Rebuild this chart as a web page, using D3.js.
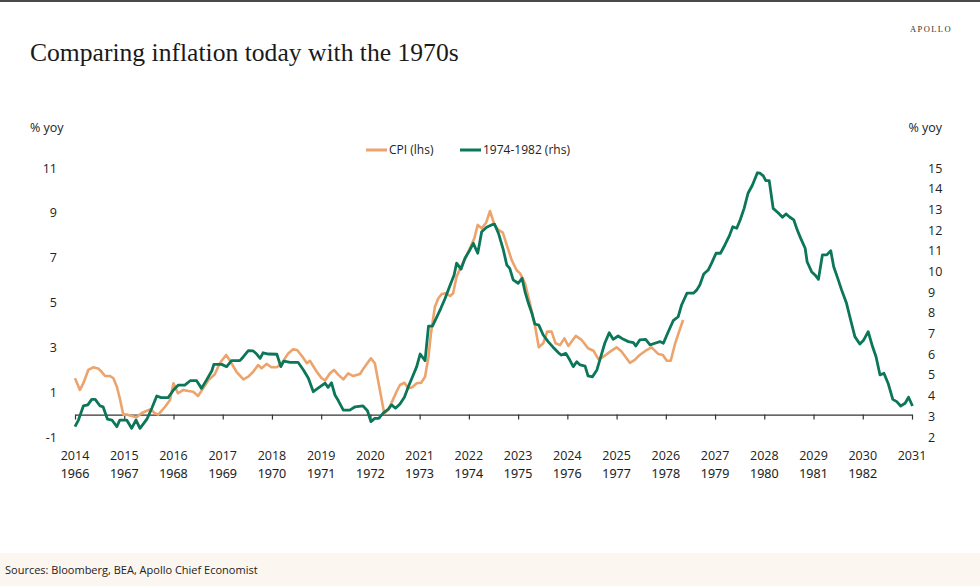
<!DOCTYPE html>
<html>
<head>
<meta charset="utf-8">
<script src="https://cdn.jsdelivr.net/npm/d3@7"></script>
<style>
  body { margin: 0; background: #fff; }
  svg { display: block; }
</style>
</head>
<body>
<svg id="chart"></svg>
<script>
// CPI yoy (lhs), [year, value]
const cpiSeries = [
  [2014.00, 1.62], [2014.10, 1.10], [2014.17, 1.40], [2014.27, 1.99], [2014.37, 2.11],
  [2014.47, 2.06], [2014.54, 1.91], [2014.61, 1.72], [2014.71, 1.72], [2014.78, 1.62],
  [2014.85, 1.24], [2014.91, 0.73], [2014.98, 0.00], [2015.05, 0.00], [2015.15, -0.06],
  [2015.25, -0.12], [2015.35, 0.06], [2015.46, 0.17], [2015.54, 0.24], [2015.62, 0.06],
  [2015.69, 0.00], [2015.83, 0.35], [2015.93, 0.65], [2016.00, 1.40], [2016.09, 0.95],
  [2016.20, 1.10], [2016.30, 1.05], [2016.40, 1.02], [2016.50, 0.83], [2016.59, 1.13],
  [2016.71, 1.54], [2016.84, 1.80], [2016.94, 2.29], [2017.07, 2.66], [2017.15, 2.40],
  [2017.28, 1.91], [2017.42, 1.57], [2017.52, 1.69], [2017.62, 1.91], [2017.72, 2.21],
  [2017.79, 2.06], [2017.89, 2.26], [2017.99, 2.11], [2018.10, 2.11], [2018.20, 2.29],
  [2018.33, 2.73], [2018.43, 2.91], [2018.51, 2.88], [2018.62, 2.58], [2018.71, 2.29],
  [2018.77, 2.40], [2018.91, 1.91], [2019.01, 1.62], [2019.08, 1.52], [2019.18, 1.84],
  [2019.26, 1.99], [2019.35, 1.77], [2019.45, 1.57], [2019.55, 1.84], [2019.65, 1.72],
  [2019.79, 1.81], [2019.86, 2.06], [2020.01, 2.51], [2020.09, 2.29], [2020.16, 1.47],
  [2020.23, 0.65], [2020.28, 0.06], [2020.36, 0.20], [2020.44, 0.58], [2020.53, 1.02],
  [2020.60, 1.32], [2020.69, 1.42], [2020.77, 1.17], [2020.85, 1.22], [2020.94, 1.40],
  [2021.03, 1.42], [2021.11, 1.69], [2021.18, 2.58], [2021.23, 3.63], [2021.31, 4.81],
  [2021.38, 5.19], [2021.45, 5.38], [2021.53, 5.41], [2021.62, 5.29], [2021.68, 5.41],
  [2021.75, 6.15], [2021.84, 6.60], [2021.93, 6.97], [2022.02, 7.42], [2022.11, 7.86],
  [2022.18, 8.46], [2022.26, 8.31], [2022.35, 8.56], [2022.43, 9.08], [2022.52, 8.46],
  [2022.60, 8.24], [2022.69, 8.12], [2022.77, 7.56], [2022.87, 6.89], [2022.97, 6.44],
  [2023.04, 6.30], [2023.14, 5.86], [2023.24, 4.96], [2023.34, 4.00], [2023.42, 3.00],
  [2023.51, 3.18], [2023.59, 3.70], [2023.68, 3.70], [2023.76, 3.18], [2023.85, 3.10],
  [2023.94, 3.40], [2024.02, 3.06], [2024.17, 3.51], [2024.29, 3.33], [2024.42, 2.96],
  [2024.53, 2.85], [2024.63, 2.47], [2024.73, 2.58], [2024.87, 2.81], [2025.00, 3.00],
  [2025.10, 2.81], [2025.27, 2.31], [2025.37, 2.44], [2025.47, 2.66], [2025.61, 2.88],
  [2025.71, 3.00], [2025.85, 2.70], [2025.94, 2.66], [2026.02, 2.40], [2026.10, 2.40],
  [2026.19, 3.18], [2026.27, 3.70], [2026.35, 4.22]
]

// 1966-1983 CPI yoy shifted onto the modern axis (rhs)
const seventiesSeries = [
  [2014.00, 2.50], [2014.07, 2.82], [2014.17, 3.50], [2014.26, 3.55], [2014.34, 3.82],
  [2014.41, 3.82], [2014.51, 3.50], [2014.57, 3.46], [2014.66, 2.86], [2014.75, 2.82],
  [2014.85, 2.50], [2014.91, 2.82], [2015.05, 2.82], [2015.15, 2.42], [2015.24, 2.82],
  [2015.32, 2.42], [2015.46, 2.86], [2015.56, 3.39], [2015.66, 3.98], [2015.75, 3.90],
  [2015.89, 3.90], [2016.00, 4.27], [2016.10, 4.51], [2016.23, 4.51], [2016.34, 4.72],
  [2016.47, 4.72], [2016.57, 4.35], [2016.67, 4.75], [2016.78, 5.20], [2016.82, 5.51],
  [2016.98, 5.51], [2017.08, 5.40], [2017.18, 5.69], [2017.35, 5.69], [2017.42, 5.88],
  [2017.52, 6.17], [2017.62, 6.16], [2017.69, 6.01], [2017.76, 5.80], [2017.82, 6.07],
  [2017.93, 6.01], [2018.10, 6.00], [2018.18, 5.40], [2018.24, 5.67], [2018.37, 5.61],
  [2018.53, 5.61], [2018.64, 5.24], [2018.74, 4.84], [2018.84, 4.19], [2018.98, 4.43],
  [2019.08, 4.60], [2019.14, 4.40], [2019.21, 4.62], [2019.28, 4.03], [2019.35, 3.75],
  [2019.45, 3.30], [2019.58, 3.30], [2019.69, 3.46], [2019.85, 3.50], [2019.94, 3.27],
  [2020.01, 2.74], [2020.09, 2.90], [2020.17, 2.90], [2020.26, 3.15], [2020.36, 3.34],
  [2020.43, 3.55], [2020.51, 3.39], [2020.60, 3.59], [2020.69, 3.92], [2020.77, 4.43],
  [2020.87, 5.00], [2020.94, 5.40], [2021.01, 6.01], [2021.11, 5.69], [2021.18, 7.36],
  [2021.26, 7.36], [2021.35, 7.81], [2021.43, 8.22], [2021.51, 8.66], [2021.62, 9.35],
  [2021.70, 9.83], [2021.75, 10.40], [2021.84, 10.11], [2021.92, 10.64], [2022.02, 11.04],
  [2022.09, 11.36], [2022.18, 10.88], [2022.26, 11.92], [2022.36, 12.14], [2022.46, 12.25],
  [2022.52, 12.29], [2022.60, 11.85], [2022.70, 11.04], [2022.77, 10.31], [2022.83, 10.15],
  [2022.90, 9.59], [2023.00, 9.43], [2023.08, 9.67], [2023.14, 9.02], [2023.21, 8.46],
  [2023.28, 7.98], [2023.34, 7.46], [2023.42, 7.41], [2023.51, 6.93], [2023.61, 6.61],
  [2023.71, 6.34], [2023.82, 6.07], [2023.88, 5.96], [2023.97, 6.04], [2024.05, 5.72],
  [2024.12, 5.40], [2024.19, 5.64], [2024.26, 5.48], [2024.36, 5.43], [2024.42, 4.95],
  [2024.51, 4.91], [2024.60, 5.24], [2024.68, 5.88], [2024.76, 6.53], [2024.85, 7.04],
  [2024.93, 6.72], [2025.03, 6.88], [2025.14, 6.72], [2025.24, 6.61], [2025.34, 6.56],
  [2025.39, 6.40], [2025.47, 6.69], [2025.59, 6.72], [2025.68, 6.45], [2025.78, 6.53],
  [2025.88, 6.61], [2025.95, 6.53], [2026.05, 7.09], [2026.15, 7.62], [2026.25, 7.81],
  [2026.32, 8.38], [2026.43, 8.95], [2026.56, 8.95], [2026.63, 9.11], [2026.69, 9.35],
  [2026.77, 9.88], [2026.86, 10.07], [2026.93, 10.40], [2027.02, 10.88], [2027.11, 10.88],
  [2027.20, 11.28], [2027.29, 11.72], [2027.36, 12.16], [2027.44, 12.09], [2027.51, 12.49],
  [2027.59, 13.05], [2027.67, 13.78], [2027.76, 14.18], [2027.86, 14.77], [2027.91, 14.75],
  [2027.98, 14.62], [2028.03, 14.39], [2028.10, 14.39], [2028.18, 13.05], [2028.28, 12.84],
  [2028.37, 12.62], [2028.44, 12.78], [2028.52, 12.62], [2028.60, 12.49], [2028.67, 12.00],
  [2028.74, 11.60], [2028.83, 11.12], [2028.87, 10.47], [2028.96, 9.99], [2029.03, 9.83],
  [2029.10, 9.62], [2029.18, 10.80], [2029.27, 10.80], [2029.35, 11.00], [2029.41, 10.23],
  [2029.48, 9.75], [2029.57, 9.11], [2029.67, 8.46], [2029.75, 7.69], [2029.84, 6.85],
  [2029.94, 6.49], [2030.02, 6.69], [2030.11, 7.09], [2030.20, 6.36], [2030.27, 5.88],
  [2030.35, 5.00], [2030.43, 5.08], [2030.52, 4.56], [2030.61, 3.82], [2030.69, 3.71],
  [2030.77, 3.50], [2030.86, 3.63], [2030.93, 3.92], [2031.01, 3.50]
]

const topYears = d3.range(2014, 2032)
const bottomYears = d3.range(1966, 1983)
const leftTicks = [-1, 1, 3, 5, 7, 9, 11]
const rightTicks = d3.range(2, 16)

const width = 980,
    height = 586

const orange = "#eca36c",
    green = "#0b7658",
    labelFont = "'Open Sans', 'Noto Sans', sans-serif"

const svg = d3.select("#chart")
    .attr("width", width)
    .attr("height", height)

const x = d3.scaleLinear().domain([2014, 2031]).range([75, 912])
const yL = d3.scaleLinear().domain([-1, 11]).range([437, 168])
const yR = d3.scaleLinear().domain([2, 15]).range([437, 168])

// top rule
svg.append("rect")
    .attr("x", 0).attr("y", 0)
    .attr("width", width).attr("height", 2)
    .attr("fill", "#4a4a4a")

// header
svg.append("text")
    .attr("x", 30).attr("y", 61)
    .attr("font-family", "'Liberation Serif', 'DejaVu Serif', serif")
    .attr("font-size", 25.6)
    .attr("fill", "#1a1a1a")
    .text("Comparing inflation today with the 1970s")

svg.append("text")
    .attr("x", 952).attr("y", 32)
    .attr("text-anchor", "end")
    .attr("font-family", "'Liberation Serif', serif")
    .attr("font-size", 8.5)
    .attr("letter-spacing", 1.4)
    .attr("fill", "#333")
    .text("APOLLO")

// unit labels
svg.append("text")
    .attr("x", 30).attr("y", 132)
    .attr("font-family", labelFont).attr("font-size", 12.5).attr("fill", "#222")
    .text("% yoy")
svg.append("text")
    .attr("x", 942).attr("y", 132)
    .attr("text-anchor", "end")
    .attr("font-family", labelFont).attr("font-size", 12.5).attr("fill", "#222")
    .text("% yoy")

// legend
const legend = [
    { label: "CPI (lhs)", color: orange, x: 366 },
    { label: "1974-1982 (rhs)", color: green, x: 460 }
]
legend.forEach(d => {
    svg.append("line")
        .attr("x1", d.x).attr("x2", d.x + 21)
        .attr("y1", 150).attr("y2", 150)
        .attr("stroke", d.color).attr("stroke-width", 3)
    svg.append("text")
        .attr("x", d.x + 23).attr("y", 154)
        .attr("font-family", labelFont).attr("font-size", 12).attr("fill", "#222")
        .text(d.label)
})

// left axis labels (plain hyphen for negatives, as in the source)
const leftAxis = svg.append("g")
    .attr("transform", "translate(60,0)")
    .call(d3.axisLeft(yL).tickValues(leftTicks).tickSize(0).tickPadding(3).tickFormat(d => String(d)))
leftAxis.select(".domain").remove()
leftAxis.selectAll("text")
    .attr("font-family", labelFont).attr("font-size", 12.5).attr("fill", "#222")

// right axis labels
const rightAxis = svg.append("g")
    .attr("transform", "translate(925,0)")
    .call(d3.axisRight(yR).tickValues(rightTicks).tickSize(0).tickPadding(3).tickFormat(d => String(d)))
rightAxis.select(".domain").remove()
rightAxis.selectAll("text")
    .attr("font-family", labelFont).attr("font-size", 12.5).attr("fill", "#222")

// x axis on the lhs zero line
const xAxis = svg.append("g")
    .attr("transform", `translate(0,${yL(0)})`)
    .call(d3.axisBottom(x).tickValues(topYears).tickSize(5).tickSizeOuter(0).tickFormat(""))
xAxis.select(".domain").attr("stroke", "#333").attr("stroke-width", 1.2)
xAxis.selectAll(".tick line").attr("stroke", "#333").attr("stroke-width", 1.2)

// year labels, two rows
svg.append("g").selectAll("text")
    .data(topYears)
    .enter()
    .append("text")
    .attr("x", d => x(d))
    .attr("y", 460)
    .attr("text-anchor", "middle")
    .attr("font-family", labelFont).attr("font-size", 12.5).attr("fill", "#222")
    .text(d => d)

svg.append("g").selectAll("text")
    .data(bottomYears)
    .enter()
    .append("text")
    .attr("x", (d, i) => x(topYears[i]))
    .attr("y", 478)
    .attr("text-anchor", "middle")
    .attr("font-family", labelFont).attr("font-size", 12.5)
    .attr("fill", "#1a1a1a")
    .attr("stroke", "#1a1a1a").attr("stroke-width", 0.12)
    .text(d => d)

// lines
const lineL = d3.line().x(d => x(d[0])).y(d => yL(d[1]))
const lineR = d3.line().x(d => x(d[0])).y(d => yR(d[1]))

svg.append("path")
    .datum(cpiSeries)
    .attr("d", lineL)
    .attr("fill", "none")
    .attr("stroke", orange)
    .attr("stroke-width", 2.6)
    .attr("stroke-linejoin", "round")

svg.append("path")
    .datum(seventiesSeries)
    .attr("d", lineR)
    .attr("fill", "none")
    .attr("stroke", green)
    .attr("stroke-width", 2.8)
    .attr("stroke-linejoin", "round")

// footer
svg.append("rect")
    .attr("x", 0).attr("y", 553)
    .attr("width", width).attr("height", height - 553)
    .attr("fill", "#fbf6f0")

svg.append("text")
    .attr("x", 5).attr("y", 574)
    .attr("font-family", labelFont).attr("font-size", 11).attr("fill", "#222")
    .text("Sources: Bloomberg, BEA, Apollo Chief Economist")
</script>
</body>
</html>
